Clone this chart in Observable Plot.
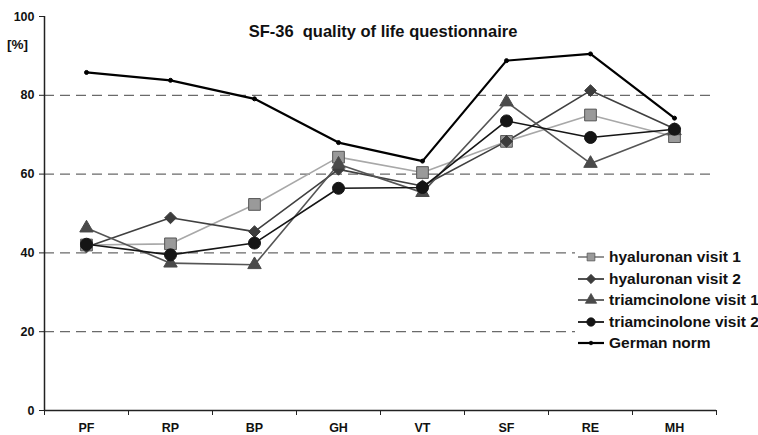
<!DOCTYPE html>
<html>
<head>
<meta charset="utf-8">
<script src="https://cdn.jsdelivr.net/npm/d3@7"></script>
<script src="https://cdn.jsdelivr.net/npm/@observablehq/plot@0.6"></script>
<style>
  html, body { margin: 0; padding: 0; background: #fff; }
  #wrap { position: relative; width: 758px; height: 435px; font-family: "Liberation Sans", Arial, sans-serif; }
  #title { position: absolute; left: 0; width: 758px; top: 22px; text-align: center; font-weight: bold; font-size: 16.5px; white-space: pre; color: #111; padding-left: 4px; }
  #unit { position: absolute; left: 7px; top: 37px; font-weight: bold; font-size: 13.5px; color: #111; }
  #legend { position: absolute; left: 575px; top: 246px; width: 183px; height: 110px; background: #fff; }
  .row { position: absolute; left: 2px; height: 20px; display: flex; align-items: center; font-weight: bold; font-size: 15.5px; color: #111; white-space: nowrap; }
  .row svg { margin-right: 4px; }
</style>
</head>
<body>
<div id="wrap">
  <div id="chart"></div>
  <div id="title">SF-36  quality of life questionnaire</div>
  <div id="unit">[%]</div>
  <div id="legend"></div>
</div>
<script>
// ---- data ----
const categories = ["PF", "RP", "BP", "GH", "VT", "SF", "RE", "MH"];
const seriesNames = ["hyaluronan visit 1", "hyaluronan visit 2", "triamcinolone visit 1", "triamcinolone visit 2", "German norm"];
const hyaluronanVisit1 = [42.0, 42.3, 52.3, 64.3, 60.4, 68.3, 75.0, 69.5];
const hyaluronanVisit2 = [41.5, 48.9, 45.4, 61.2, 57.0, 68.3, 81.2, 71.5];
const triamcinoloneVisit1 = [46.3, 37.4, 37.0, 62.5, 55.3, 78.3, 62.7, 71.0];
const triamcinoloneVisit2 = [42.2, 39.5, 42.5, 56.4, 56.6, 73.5, 69.3, 71.4];
const germanNorm = [85.8, 83.8, 79.1, 68.0, 63.3, 88.8, 90.5, 74.2];
const yTicks = [0, 20, 40, 60, 80, 100];
const gridValues = [20, 40, 60, 80];

// ---- styles ----
const styles = [
  {line: "#a8a8a8", lw: 1.6, symbol: "square", fill: "#9a9a9a", mstroke: "#555", r: 6.6},
  {line: "#404040", lw: 1.6, symbol: "diamond2", fill: "#3c3c3c", mstroke: "#3c3c3c", r: 5.3},
  {line: "#555555", lw: 1.6, symbol: "triangle", fill: "#4a4a4a", mstroke: "#4a4a4a", r: 5.0},
  {line: "#151515", lw: 1.6, symbol: "circle", fill: "#151515", mstroke: "#151515", r: 6.0},
  {line: "#000000", lw: 2.2, symbol: "circle", fill: "#000", mstroke: "#000", r: 2.0}
];
const values = [hyaluronanVisit1, hyaluronanVisit2, triamcinoloneVisit1, triamcinoloneVisit2, germanNorm];

const tables = values.map((vals, s) => vals.map((v, i) => ({i, cat: categories[i], value: v, series: seriesNames[s]})));

const marks = [
  Plot.ruleY(gridValues, {stroke: "#6a6a6a", strokeWidth: 1.3, strokeDasharray: "10,6"}),
  Plot.axisY({ticks: yTicks, tickSize: 5, tickPadding: 5, label: null, stroke: "#222"}),
  Plot.axisX({ticks: d3.range(categories.length), tickFormat: i => categories[i], tickSize: 0, tickPadding: 13, label: null}),
  Plot.axisX({ticks: d3.range(categories.length + 1).map(i => i - 0.5), tickFormat: () => "", tickSize: 5, label: null, stroke: "#222"}),
  Plot.ruleX([-0.5], {stroke: "#222", strokeWidth: 1.5}),
  Plot.ruleY([0], {stroke: "#222", strokeWidth: 1.5})
];
tables.forEach((t, s) => {
  const st = styles[s];
  marks.push(Plot.line(t, {x: "i", y: "value", stroke: st.line, strokeWidth: st.lw}));
});
tables.forEach((t, s) => {
  const st = styles[s];
  marks.push(Plot.dot(t, {x: "i", y: "value", symbol: () => st.symbol, r: st.r, fill: st.fill, stroke: st.mstroke, strokeWidth: 1}));
});

const chart = Plot.plot({
  width: 758, height: 435,
  marginLeft: 44, marginRight: 42, marginTop: 16, marginBottom: 25,
  x: {domain: [-0.5, categories.length - 0.5]},
  y: {domain: [0, 100]},
  symbol: {type: "identity"},
  style: {fontFamily: "Liberation Sans, Arial, sans-serif", fontSize: "12.5px", fontWeight: "bold", color: "#111", background: "#fff"},
  marks
});
document.getElementById("chart").appendChild(chart);

// ---- legend ----
const symMap = {square: d3.symbolSquare, diamond2: d3.symbolDiamond2, triangle: d3.symbolTriangle, circle: d3.symbolCircle};
const legend = document.getElementById("legend");
const rowTops = [1, 22.5, 44, 65.5, 87];
seriesNames.forEach((name, s) => {
  const st = styles[s];
  const row = document.createElement("div");
  row.className = "row";
  row.style.top = rowTops[s] + "px";
  const svg = d3.create("svg").attr("width", 28).attr("height", 16);
  svg.append("line").attr("x1", 1).attr("x2", 27).attr("y1", 8).attr("y2", 8)
    .attr("stroke", s === 0 ? "#888" : st.line).attr("stroke-width", s === 4 ? 2.2 : 1.8);
  const size = s === 4 ? 10 : (s === 0 ? 60 : 55);
  svg.append("path").attr("transform", "translate(14,8)")
    .attr("d", d3.symbol(symMap[st.symbol], size)())
    .attr("fill", st.fill).attr("stroke", st.mstroke).attr("stroke-width", 0.8);
  row.appendChild(svg.node());
  const span = document.createElement("span");
  span.textContent = name;
  row.appendChild(span);
  legend.appendChild(row);
});
</script>
</body>
</html>
